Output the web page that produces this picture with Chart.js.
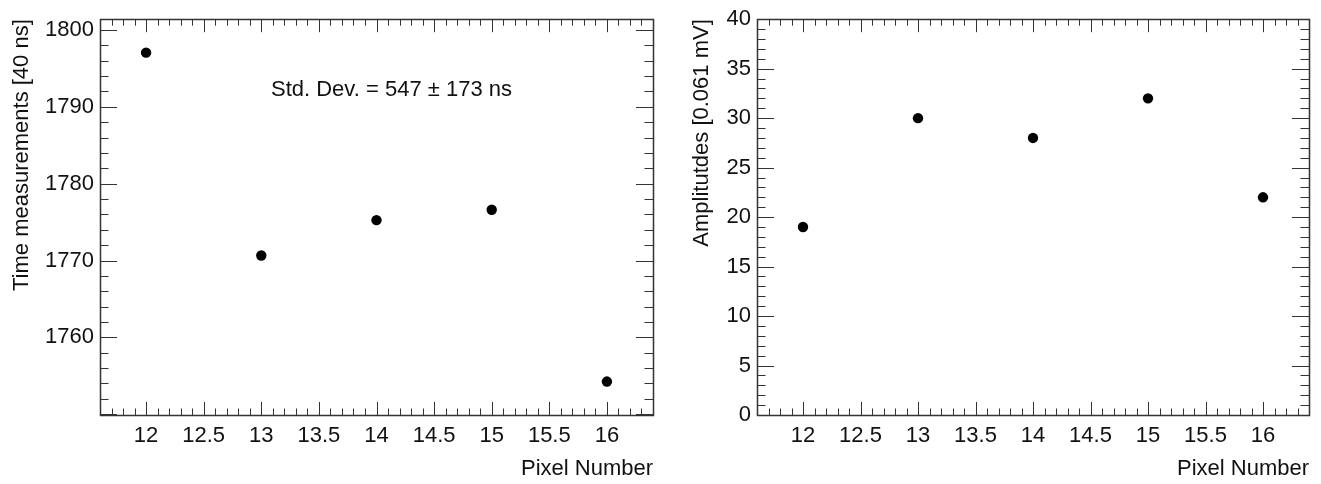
<!DOCTYPE html>
<html><head><meta charset="utf-8">
<script src="https://cdn.jsdelivr.net/npm/chart.js@4"></script>
<style>
html,body{margin:0;padding:0;background:#fff;overflow:hidden}
#l{position:absolute;left:0;top:0}
#r{position:absolute;left:660px;top:0}
</style></head>
<body>
<canvas id="l" width="660" height="484"></canvas>
<canvas id="r" width="661" height="484"></canvas>
<script>
// ---- data ----
const pixels = [12, 13, 14, 15, 16];
const timeValues = [1797.05, 1770.65, 1775.25, 1776.6, 1754.25];
const ampValues = [19, 30, 28, 32, 22];
const xTickValues = [12, 12.5, 13, 13.5, 14, 14.5, 15, 15.5, 16];
const timeTickValues = [1760, 1770, 1780, 1790, 1800];
const ampTickValues = [0, 5, 10, 15, 20, 25, 30, 35, 40];
const xTitle = 'Pixel Number';
const timeTitle = 'Time measurements [40 ns]';
const ampTitle = 'Amplitutdes [0.061 mV]';
const annotationText = 'Std. Dev. = 547 \u00b1 173 ns';
const annotationPos = [14.13, 1792.2];

const FONT = {family: '"Liberation Sans", Arial, Helvetica, sans-serif', size: 22};
const INK = '#111';
const LINE = '#333';

const framePlugin = {
  id: 'rootFrame',
  beforeDatasetsDraw(chart, args, o) {
    const ctx = chart.ctx, a = chart.chartArea;
    const xs = chart.scales.x, ys = chart.scales.y;
    ctx.save();
    ctx.strokeStyle = LINE;
    ctx.lineWidth = 1;
    const near = (v, s) => Math.abs(v / s - Math.round(v / s)) < 1e-6;
    ctx.beginPath();
    for (let k = Math.ceil(xs.min / o.xMinor - 1e-9); k * o.xMinor <= xs.max + 1e-9; k++) {
      const v = k * o.xMinor;
      const p = Math.round(xs.getPixelForValue(v)) + 0.5;
      const len = near(v, o.xMajor) ? o.xLen : o.xLen / 2;
      ctx.moveTo(p, a.bottom); ctx.lineTo(p, a.bottom - len);
      ctx.moveTo(p, a.top); ctx.lineTo(p, a.top + len);
    }
    for (let k = Math.ceil(ys.min / o.yMinor - 1e-9); k * o.yMinor <= ys.max + 1e-9; k++) {
      const v = k * o.yMinor;
      const p = Math.round(ys.getPixelForValue(v)) + 0.5;
      const len = near(v, o.yMajor) ? o.yLen : o.yLen / 2;
      ctx.moveTo(a.left, p); ctx.lineTo(a.left + len, p);
      ctx.moveTo(a.right, p); ctx.lineTo(a.right - len, p);
    }
    ctx.stroke();
    ctx.lineWidth = 1.5;
    ctx.strokeRect(Math.round(a.left) + 0.5, Math.round(a.top) + 0.5,
                   Math.round(a.right - a.left), Math.round(a.bottom - a.top));
    if (o.text) {
      ctx.fillStyle = INK;
      ctx.font = FONT.size + 'px ' + FONT.family;
      ctx.textAlign = 'center';
      ctx.textBaseline = 'middle';
      ctx.fillText(o.text, xs.getPixelForValue(o.textPos[0]), ys.getPixelForValue(o.textPos[1]));
    }
    ctx.restore();
  }
};

function makeChart(id, values, yMin, yMax, yTicks, yTitle, yWidth, yTitlePad, rightPad, frameOpts) {
  return new Chart(document.getElementById(id), {
    type: 'scatter',
    data: {datasets: [{
      data: pixels.map((x, i) => ({x, y: values[i]})),
      backgroundColor: '#000', borderColor: '#000', borderWidth: 0,
      pointRadius: 5.2, pointHoverRadius: 5.2, showLine: false
    }]},
    options: {
      responsive: false, animation: false,
      layout: {padding: {top: 16, right: rightPad, left: 0, bottom: 0}},
      plugins: {legend: {display: false}, tooltip: {enabled: false}, rootFrame: frameOpts},
      scales: {
        x: {
          type: 'linear', min: 11.6, max: 16.4,
          afterBuildTicks: s => { s.ticks = xTickValues.map(v => ({value: v})); },
          afterFit: s => { s.height = 69; },
          ticks: {font: FONT, color: INK, padding: 8, maxRotation: 0, autoSkip: false,
                  callback: v => String(v)},
          grid: {display: false, drawTicks: false},
          border: {display: false},
          title: {display: true, text: xTitle, align: 'end', font: FONT, color: INK,
                  padding: {top: 0, bottom: 2}}
        },
        y: {
          type: 'linear', min: yMin, max: yMax,
          afterBuildTicks: s => { s.ticks = yTicks.map(v => ({value: v})); },
          afterFit: s => { s.width = yWidth; },
          ticks: {font: FONT, color: INK, padding: 6, autoSkip: false, callback: v => String(v)},
          grid: {display: false, drawTicks: false},
          border: {display: false},
          title: {display: true, text: yTitle, align: 'end', font: FONT, color: INK,
                  padding: {top: yTitlePad, bottom: 0}}
        }
      }
    },
    plugins: [framePlugin]
  });
}

makeChart('l', timeValues, 1749.9, 1801.4, timeTickValues, timeTitle, 100, 9, 7,
  {xMinor: 0.1, xMajor: 0.5, xLen: 13, yMinor: 2, yMajor: 10, yLen: 17,
   text: annotationText, textPos: annotationPos});
makeChart('r', ampValues, 0, 40, ampTickValues, ampTitle, 97, 29, 12,
  {xMinor: 0.1, xMajor: 0.5, xLen: 13, yMinor: 1, yMajor: 5, yLen: 17});
</script>
</body></html>
